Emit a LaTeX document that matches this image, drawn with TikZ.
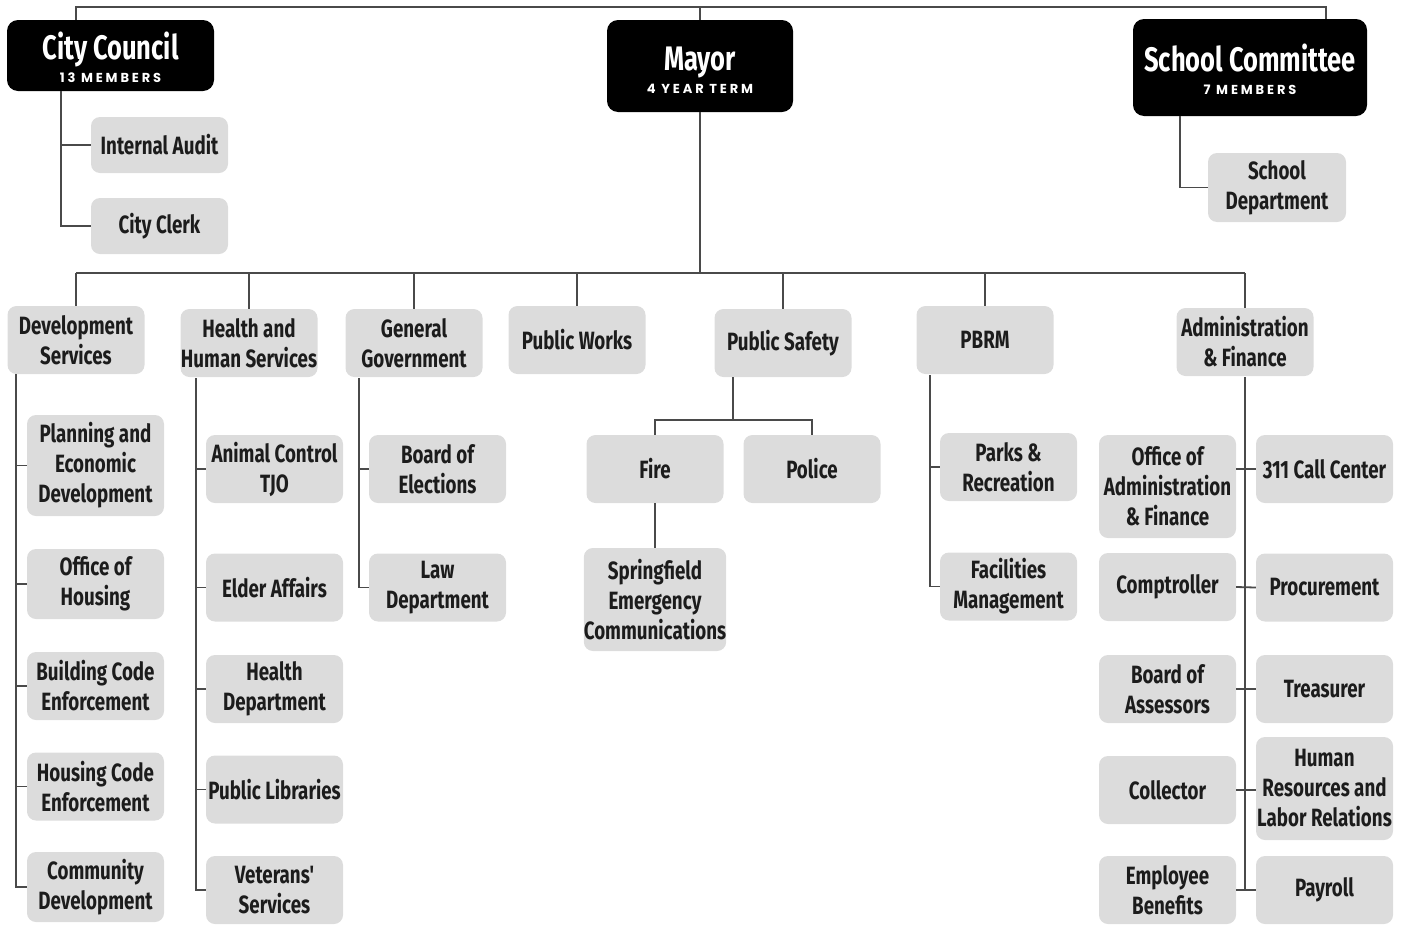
\documentclass[tikz,border=0pt]{standalone}
\usepackage{fontspec}
\newfontfamily\cond[FakeStretch=0.75]{Fira Sans}
\newfontfamily\subf[LetterSpace=22]{Poppins}
\definecolor{boxgray}{HTML}{DCDCDC}
\definecolor{linegray}{HTML}{4A4A4A}
\definecolor{txt}{HTML}{1C1C1C}
\begin{document}
\begin{tikzpicture}[x=1pt,y=-1pt,
  conn/.style={draw=linegray,line width=1.8pt},
  unit/.style={rounded corners=9pt,fill=boxgray,minimum width=137pt,minimum height=68pt,inner sep=0pt,align=center,text=txt,font=\cond\bfseries\fontsize{25}{30}\selectfont},
  tall/.style={unit,minimum height=103pt},
  head/.style={rounded corners=11pt,fill=black,text=white,inner sep=0pt,align=center,font=\fontsize{12}{23}\selectfont},
]
\newcommand\ttlfont{\cond\bfseries\fontsize{34}{23}\selectfont}
\newcommand\subfont{\subf\bfseries\fontsize{13}{23}\selectfont}
\useasboundingbox (0,0) rectangle (1410,924);
% top level
\node[head,minimum width=207pt,minimum height=71pt] (cc) at (110.5,55.5)
  {\rule{0pt}{31pt}{\ttlfont City Council}\\{\subfont 13 MEMBERS}};
\node[head,minimum width=186pt,minimum height=92pt] (mayor) at (700,66)
  {\rule{0pt}{31pt}{\ttlfont Mayor}\\{\subfont 4 YEAR TERM}};
\node[head,minimum width=234pt,minimum height=97pt] (sc) at (1250,67.5)
  {\rule{0pt}{31pt}{\ttlfont School Committee}\\{\subfont 7 MEMBERS}};
\coordinate (t1) at (76,7);
\coordinate (t3) at (1326,7);
\draw[conn] (cc.north -| t1) -- (t1) -- (t3) -- (sc.north -| t3);
\draw[conn] (mayor.north) -- (mayor.north |- t1);
% city council children
\node[unit,minimum height=56pt] (ia) at (159.5,145) {Internal Audit};
\node[unit,minimum height=56pt] (clerk) at (159.5,226) {City Clerk};
\coordinate (ccv) at (61,91);
\draw[conn] (ccv |- ia.west) -- (ia.west);
\draw[conn] (ccv) |- (clerk.west);
% school committee child
\node[unit,minimum width=138pt,minimum height=69pt] (sd) at (1277,187.5) {School\\Department};
\coordinate (scv) at (1180,116);
\draw[conn] (scv) |- (sd.west);
% mayor bus
\coordinate (busl) at (76,273);
\coordinate (busr) at (1245,273);
\draw[conn] (mayor.south) -- (mayor.south |- busl);
\draw[conn] (busl) -- (busr);
% departments
\node[unit] (ds) at (76,340) {Development\\Services};
\node[unit] (hhs) at (249,343) {Health and\\Human Services};
\node[unit] (gg) at (414,343) {General\\Government};
\node[unit] (pw) at (577,340) {Public Works};
\node[unit] (ps) at (783,343) {Public Safety};
\node[unit] (pbrm) at (985,340) {PBRM};
\node[unit] (af) at (1245,342) {Administration\\\& Finance};
\foreach \d in {ds,hhs,gg,pw,ps,pbrm,af}{\draw[conn] (\d.north |- busl) -- (\d.north);}
% development services
\node[tall,minimum height=101pt] (ped) at (95.5,465.5) {Planning and\\Economic\\Development};
\node[unit,minimum height=70pt] (oh) at (95.5,584) {Office of\\Housing};
\node[unit] (bce) at (95.5,686) {Building Code\\Enforcement};
\node[unit] (hce) at (95.5,786.5) {Housing Code\\Enforcement};
\node[unit,minimum height=70pt] (cd) at (95.5,887) {Community\\Development};
\coordinate (dsv) at (16,374);
\draw[conn] (dsv) |- (cd.west);
\foreach \c in {ped,oh,bce,hce}{\draw[conn] (dsv |- \c.west) -- (\c.west);}
% health and human services
\node[unit] (ac) at (274.5,469) {Animal Control\\TJO};
\node[unit] (ea) at (274.5,587.5) {Elder Affairs};
\node[unit] (hd) at (274.5,689) {Health\\Department};
\node[unit] (pl) at (274.5,789.5) {Public Libraries};
\node[unit] (vs) at (274.5,890) {Veterans'\\Services};
\coordinate (hhsv) at (196,378);
\draw[conn] (hhsv) |- (vs.west);
\foreach \c in {ac,ea,hd,pl}{\draw[conn] (hhsv |- \c.west) -- (\c.west);}
% general government
\node[unit] (be) at (437.5,469) {Board of\\Elections};
\node[unit] (ld) at (437.5,587.5) {Law\\Department};
\coordinate (ggv) at (359,378);
\draw[conn] (ggv |- be.west) -- (be.west);
\draw[conn] (ggv) |- (ld.west);
% public safety
\node[unit] (fire) at (655,469) {Fire};
\node[unit] (police) at (812,469) {Police};
\node[tall,minimum width=139pt] (sec) at (655,599.5) {Springfield\\Emergency\\Communications};
\coordinate (psbus) at (733,420);
\draw[conn] (ps.south -| psbus) -- (psbus);
\draw[conn] (fire.north) |- (psbus) -| (police.north);
\draw[conn] (fire.south) -- (sec.north);
% PBRM
\node[unit] (pr) at (1008.5,467) {Parks \&\\Recreation};
\node[unit] (fm) at (1008.5,586.5) {Facilities\\Management};
\coordinate (pbv) at (930,375);
\draw[conn] (pbv |- pr.west) -- (pr.west);
\draw[conn] (pbv) |- (fm.west);
% administration & finance
\node[tall] (oaf) at (1167.5,486.5) {Office of\\Administration\\\& Finance};
\node[unit] (call) at (1324.5,469) {311 Call Center};
\node[unit] (comp) at (1167.5,587) {Comptroller};
\node[unit] (proc) at (1324.5,587.5) {Procurement};
\node[unit] (boa) at (1167.5,689) {Board of\\Assessors};
\node[unit] (treas) at (1324.5,689) {Treasurer};
\node[unit] (coll) at (1167.5,790) {Collector};
\node[tall] (hr) at (1324.5,788.5) {Human\\Resources and\\Labor Relations};
\node[unit] (eb) at (1167.5,890) {Employee\\Benefits};
\node[unit] (pay) at (1324.5,890) {Payroll};
\coordinate (afv) at (1245,377);
\draw[conn] (afv) -- (afv |- pay.west);
\draw[conn] (oaf.east |- call.west) -- (call.west);
\draw[conn] (comp.east) -- (proc.west);
\draw[conn] (boa.east) -- (treas.west);
\draw[conn] (coll.east) -- (hr.west |- coll.east);
\draw[conn] (eb.east) -- (pay.west);
\end{tikzpicture}
\end{document}
